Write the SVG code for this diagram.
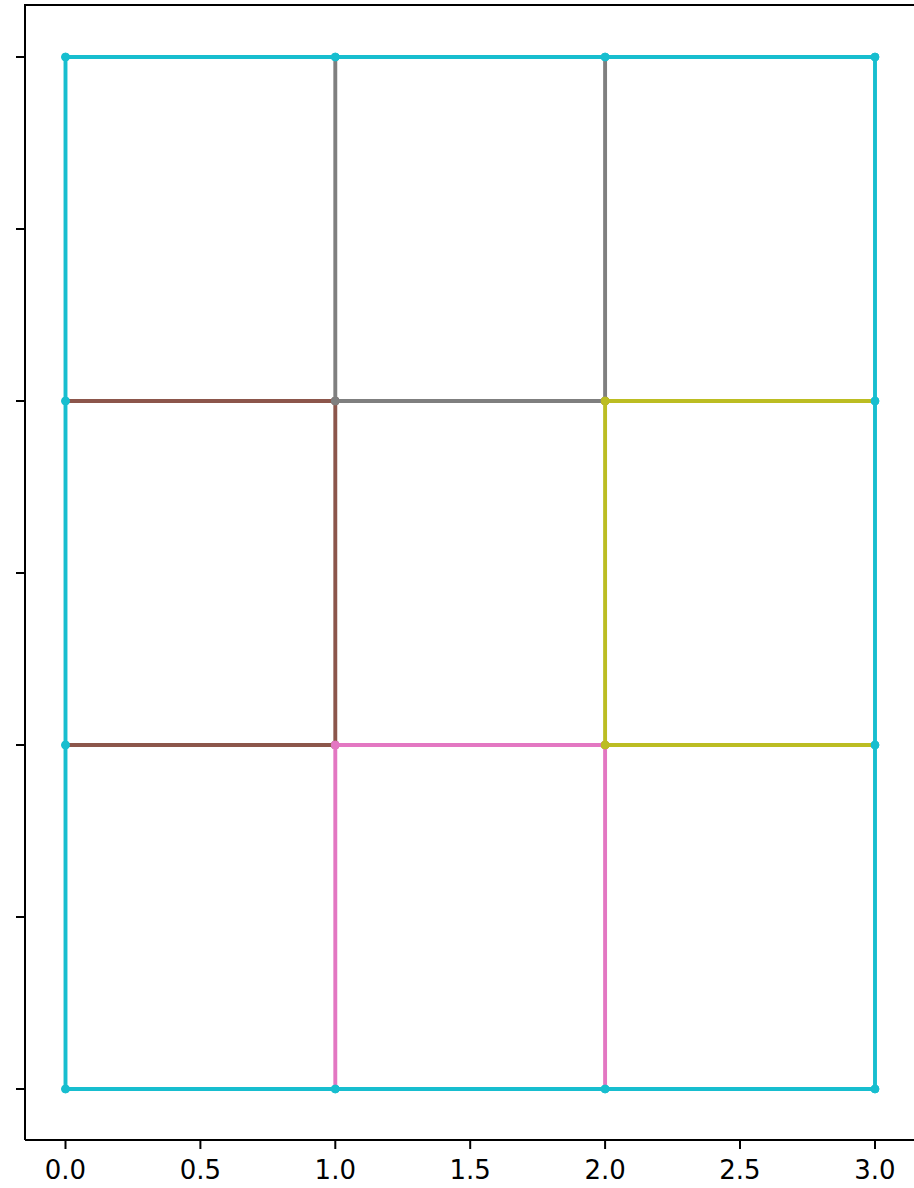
<svg xmlns="http://www.w3.org/2000/svg" width="914" height="1188" viewBox="0 0 914 1188">
<style>
.seg{fill:none;stroke-width:3.9;stroke-linejoin:round;stroke-linecap:butt}
.ax{stroke:#000;stroke-width:2;fill:none}
.tk{stroke:#000;stroke-width:2}
.lbl{font-family:"DejaVu Sans",sans-serif;font-size:26px;fill:#000;text-anchor:middle}
</style>
<rect width="914" height="1188" fill="#fff"/>
<g id="axes">
<path class="ax" d="M25,1140 V5 H914 M25,1140 H914"/>
<g id="yticks">
<line class="tk" x1="16" y1="57" x2="25" y2="57"/>
<line class="tk" x1="16" y1="229" x2="25" y2="229"/>
<line class="tk" x1="16" y1="401" x2="25" y2="401"/>
<line class="tk" x1="16" y1="573" x2="25" y2="573"/>
<line class="tk" x1="16" y1="745" x2="25" y2="745"/>
<line class="tk" x1="16" y1="917" x2="25" y2="917"/>
<line class="tk" x1="16" y1="1089" x2="25" y2="1089"/>
</g>
<g id="xticks">
<line class="tk" x1="65.5" y1="1140" x2="65.5" y2="1149"/>
<line class="tk" x1="200.4" y1="1140" x2="200.4" y2="1149"/>
<line class="tk" x1="335.3" y1="1140" x2="335.3" y2="1149"/>
<line class="tk" x1="470.2" y1="1140" x2="470.2" y2="1149"/>
<line class="tk" x1="605.1" y1="1140" x2="605.1" y2="1149"/>
<line class="tk" x1="740" y1="1140" x2="740" y2="1149"/>
<line class="tk" x1="875" y1="1140" x2="875" y2="1149"/>
<text class="lbl" x="65.5" y="1179">0.0</text>
<text class="lbl" x="200.4" y="1179">0.5</text>
<text class="lbl" x="335.3" y="1179">1.0</text>
<text class="lbl" x="470.2" y="1179">1.5</text>
<text class="lbl" x="605.1" y="1179">2.0</text>
<text class="lbl" x="740" y="1179">2.5</text>
<text class="lbl" x="875" y="1179">3.0</text>
</g>
</g>
<g id="connectors">
<g id="brown" stroke="#8c564b" fill="#8c564b">
<path class="seg" d="M65.5,401 H335.3 V745 H65.5"/>
<circle cx="335.3" cy="745" r="4"/><circle cx="335.3" cy="401" r="4"/>
</g>
<g id="gray" stroke="#7f7f7f" fill="#7f7f7f">
<path class="seg" d="M335.3,57 V401 H605.1 V57"/>
<circle cx="335.3" cy="401" r="4"/><circle cx="605.1" cy="401" r="4"/>
</g>
<g id="pink" stroke="#e377c2" fill="#e377c2">
<path class="seg" d="M335.3,1089 V745 H605.1 V1089"/>
<circle cx="335.3" cy="745" r="4"/><circle cx="605.1" cy="745" r="4"/>
</g>
<g id="olive" stroke="#bcbd22" fill="#bcbd22">
<path class="seg" d="M875,401 H605.1 V745 H875"/>
<circle cx="605.1" cy="401" r="4"/><circle cx="605.1" cy="745" r="4"/>
</g>
<g id="cyan" stroke="#17becf" fill="#17becf">
<path class="seg" d="M65.5,57 H875 V1089 H65.5 Z"/>
<circle cx="65.5" cy="57" r="4"/><circle cx="335.3" cy="57" r="4"/><circle cx="605.1" cy="57" r="4"/><circle cx="875" cy="57" r="4"/>
<circle cx="875" cy="401" r="4"/><circle cx="875" cy="745" r="4"/><circle cx="875" cy="1089" r="4"/>
<circle cx="605.1" cy="1089" r="4"/><circle cx="335.3" cy="1089" r="4"/><circle cx="65.5" cy="1089" r="4"/>
<circle cx="65.5" cy="745" r="4"/><circle cx="65.5" cy="401" r="4"/>
</g>
</g>
</svg>
